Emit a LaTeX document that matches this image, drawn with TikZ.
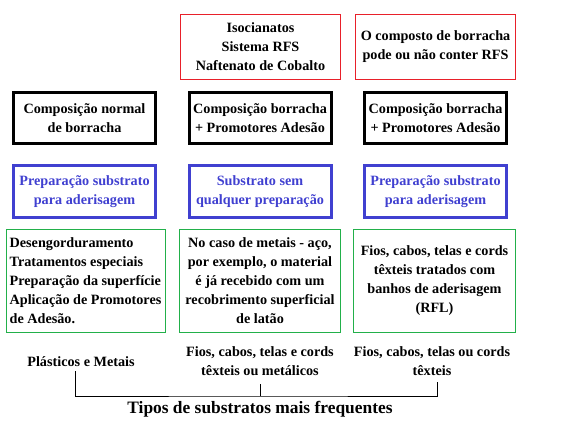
\documentclass[tikz,border=0pt]{standalone}
\usepackage{fontspec}
\setmainfont{Liberation Serif}
\usepackage{tikz}
\definecolor{boxred}{HTML}{E8202A}
\definecolor{boxblue}{HTML}{4040D0}
\definecolor{boxgreen}{HTML}{22B04A}
\tikzset{
  every node/.style={font=\bfseries\fontsize{14.2}{19}\selectfont, inner sep=2pt},
  redbox/.style={draw=boxred, line width=1pt, minimum width=160pt, minimum height=65pt, align=center},
  blackbox/.style={draw, line width=3pt, minimum width=142pt, minimum height=51pt, align=center},
  bluebox/.style={draw=boxblue, line width=3pt, minimum width=142pt, minimum height=52pt, align=center, text=boxblue},
  greenbox/.style={draw=boxgreen, line width=1pt, minimum height=103pt, align=center},
  tipo/.style={align=center},
}

\begin{document}
\begin{tikzpicture}[x=1pt, y=-1pt]
    \useasboundingbox (0,0) rectangle (570,425);
    % aditivos
    \node[redbox] (iso) at (260.5,47) {Isocianatos\\Sistema RFS\\Naftenato de Cobalto};
    \node[redbox] (rfs) at (435.5,47) {O composto de borracha\\pode ou não conter RFS};
    % composicoes
    \node[blackbox] (comp1) at (84.5,118.5) {Composição normal\\de borracha};
    \node[blackbox] (comp2) at (260,118.5) {Composição borracha\\+ Promotores Adesão};
    \node[blackbox] (comp3) at (435.5,118.5) {Composição borracha\\+ Promotores Adesão};
    % preparacao
    \node[bluebox] (prep1) at (84.5,191.5) {Preparação substrato\\para aderisagem};
    \node[bluebox] (prep2) at (260,191.5) {Substrato sem\\qualquer preparação};
    \node[bluebox] (prep3) at (435.5,191.5) {Preparação substrato\\para aderisagem};
    % tratamentos
    \node[greenbox, minimum width=159pt, align=left] (trat1) at (85.5,281)
      {Desengorduramento\\Tratamentos especiais\\Preparação da superfície\\Aplicação de Promotores\\de Adesão.};
    \node[greenbox, minimum width=161pt] (trat2) at (260,281)
      {No caso de metais - aço,\\por exemplo, o material\\é já recebido com um\\recobrimento superficial\\de latão};
    \node[greenbox, minimum width=162pt] (trat3) at (434.5,281)
      {Fios, cabos, telas e cords\\têxteis tratados com\\banhos de aderisagem\\(RFL)};
    % substratos
    \node[tipo] (plast) at (81,362) {Plásticos e Metais};
    \node[tipo] (fiosm) at (260,361.5) {Fios, cabos, telas e cords\\têxteis ou metálicos};
    \node[tipo] (fiost) at (432,361.5) {Fios, cabos, telas ou cords\\têxteis};
    \node[font=\bfseries\fontsize{17.4}{20}\selectfont] (tipos) at (260,409) {Tipos de substratos mais frequentes};
    \coordinate (base) at (260,396);
    \draw[line width=0.8pt] ([xshift=-6pt,yshift=-2pt]plast.south) |- (base) -| ([xshift=5pt,yshift=-4pt]fiost.south);
    \draw[line width=0.8pt] ([yshift=-6pt]fiosm.south) -- (base);
\end{tikzpicture}
\end{document}
